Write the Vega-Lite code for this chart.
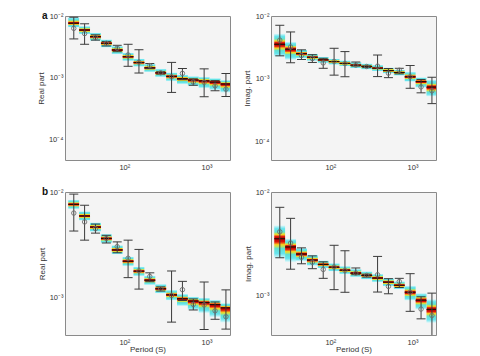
{
"$schema":"https://vega.github.io/schema/vega-lite/v6.json",
"autosize":{"type":"pad"},
"padding":{"left":36,"top":10,"right":0,"bottom":0},
"background":"white",
"config":{
 "font":"Liberation Sans",
 "view":{"fill":"#f4f4f4","stroke":"#8a8a8a","strokeWidth":1},
 "axis":{"ticks":false,"grid":false,"domain":false,"labelFont":"Liberation Sans","labelFontSize":7.5,"labelColor":"#333","titleFont":"Liberation Sans","titleFontSize":8,"titleFontWeight":"normal","titleColor":"#333"},
 "axisX":{"labelPadding":3,"titlePadding":0},
 "axisY":{"labelPadding":2,"titlePadding":3}
},
"datasets":{
"re":[
{"p":24.3,"p0":20.8,"p1":28.2,"m":7.62e-3,"ua":9.59e-3,"la":6.49e-3,"ub":8.45e-3,"lb":6.87e-3,"e1":9.55e-3,"e0":4.25e-3,"o":6.3e-3},
{"p":32.9,"p0":28.2,"p1":38.3,"m":5.92e-3,"ua":6.87e-3,"la":5.04e-3,"ub":6.56e-3,"lb":5.33e-3,"e1":7.48e-3,"e0":3.48e-3,"o":5.19e-3},
{"p":44.6,"p0":38.3,"p1":52.0,"m":4.63e-3,"ua":5.38e-3,"la":3.94e-3,"ub":5.14e-3,"lb":4.18e-3,"e1":4.95e-3,"e0":4.06e-3,"o":4.47e-3},
{"p":60.5,"p0":52.0,"p1":70.5,"m":3.61e-3,"ua":4.19e-3,"la":3.07e-3,"ub":4.0e-3,"lb":3.25e-3,"e1":3.87e-3,"e0":3.27e-3,"o":3.61e-3},
{"p":82.0,"p0":70.5,"p1":95.5,"m":2.81e-3,"ua":3.27e-3,"la":2.39e-3,"ub":3.12e-3,"lb":2.54e-3,"e1":3.35e-3,"e0":2.64e-3,"o":3.02e-3},
{"p":111.2,"p0":95.5,"p1":129.4,"m":2.19e-3,"ua":2.54e-3,"la":1.86e-3,"ub":2.43e-3,"lb":1.97e-3,"e1":3.48e-3,"e0":1.53e-3,"o":2.34e-3},
{"p":150.7,"p0":129.4,"p1":175.4,"m":1.76e-3,"ua":2.04e-3,"la":1.50e-3,"ub":1.95e-3,"lb":1.58e-3,"e1":2.84e-3,"e0":1.19e-3,"o":1.78e-3},
{"p":204.2,"p0":175.4,"p1":238.2,"m":1.445e-3,"ua":1.68e-3,"la":1.23e-3,"ub":1.60e-3,"lb":1.30e-3,"e1":1.70e-3,"e0":1.40e-3,"o":1.57e-3},
{"p":277.3,"p0":238.2,"p1":322.8,"m":1.2e-3,"ua":1.40e-3,"la":1.02e-3,"ub":1.33e-3,"lb":1.08e-3,"e1":1.25e-3,"e0":1.14e-3,"o":1.2e-3},
{"p":375.8,"p0":322.8,"p1":437.5,"m":1.05e-3,"ua":1.22e-3,"la":8.75e-4,"ub":1.17e-3,"lb":9.27e-4,"e1":1.77e-3,"e0":5.77e-4,"o":1.035e-3},
{"p":509.3,"p0":437.5,"p1":592.9,"m":9.64e-4,"ua":1.12e-3,"la":7.83e-4,"ub":1.07e-3,"lb":8.20e-4,"e1":1.41e-3,"e0":9.27e-4,"o":1.175e-3},
{"p":690.2,"p0":592.9,"p1":803.5,"m":9.14e-4,"ua":1.06e-3,"la":7.26e-4,"ub":1.01e-3,"lb":7.52e-4,"e1":9.59e-4,"e0":7.53e-4,"o":8.5e-4},
{"p":935.4,"p0":803.5,"p1":1091,"m":8.87e-4,"ua":1.03e-3,"la":6.73e-4,"ub":9.84e-4,"lb":7.05e-4,"e1":1.39e-3,"e0":4.91e-4,"o":8.4e-4},
{"p":1270,"p0":1091,"p1":1479,"m":8.47e-4,"ua":9.84e-4,"la":6.28e-4,"ub":9.40e-4,"lb":6.43e-4,"e1":8.97e-4,"e0":6.14e-4,"o":7.4e-4},
{"p":1722,"p0":1479,"p1":2004,"m":7.89e-4,"ua":9.16e-4,"la":5.71e-4,"ub":8.75e-4,"lb":5.71e-4,"e1":1.17e-3,"e0":4.95e-4,"o":6.5e-4}
],
"im":[
{"p":24.3,"p0":20.8,"p1":28.2,"m":3.53e-3,"ua":5.22e-3,"la":2.23e-3,"ub":4.76e-3,"lb":2.28e-3,"e1":7.11e-3,"e0":2.31e-3,"o":4.12e-3},
{"p":32.9,"p0":28.2,"p1":38.3,"m":2.94e-3,"ua":3.87e-3,"la":1.99e-3,"ub":3.53e-3,"lb":2.10e-3,"e1":5.56e-3,"e0":1.79e-3,"o":3.2e-3},
{"p":44.6,"p0":38.3,"p1":52.0,"m":2.51e-3,"ua":2.92e-3,"la":2.09e-3,"ub":2.88e-3,"lb":2.14e-3,"e1":2.88e-3,"e0":2.02e-3,"o":2.34e-3},
{"p":60.5,"p0":52.0,"p1":70.5,"m":2.19e-3,"ua":2.51e-3,"la":1.91e-3,"ub":2.48e-3,"lb":1.93e-3,"e1":2.41e-3,"e0":1.81e-3,"o":2.09e-3},
{"p":82.0,"p0":70.5,"p1":95.5,"m":1.99e-3,"ua":2.23e-3,"la":1.77e-3,"ub":2.18e-3,"lb":1.82e-3,"e1":2.11e-3,"e0":1.46e-3,"o":1.78e-3},
{"p":111.2,"p0":95.5,"p1":129.4,"m":1.87e-3,"ua":2.09e-3,"la":1.66e-3,"ub":2.05e-3,"lb":1.70e-3,"e1":3.05e-3,"e0":1.135e-3,"o":1.88e-3},
{"p":150.7,"p0":129.4,"p1":175.4,"m":1.75e-3,"ua":1.96e-3,"la":1.56e-3,"ub":1.92e-3,"lb":1.60e-3,"e1":2.70e-3,"e0":1.07e-3,"o":1.74e-3},
{"p":204.2,"p0":175.4,"p1":238.2,"m":1.64e-3,"ua":1.84e-3,"la":1.46e-3,"ub":1.80e-3,"lb":1.50e-3,"e1":1.84e-3,"e0":1.585e-3,"o":1.64e-3},
{"p":277.3,"p0":238.2,"p1":322.8,"m":1.56e-3,"ua":1.75e-3,"la":1.39e-3,"ub":1.71e-3,"lb":1.42e-3,"e1":1.60e-3,"e0":1.50e-3,"o":1.56e-3},
{"p":375.8,"p0":322.8,"p1":437.5,"m":1.47e-3,"ua":1.65e-3,"la":1.31e-3,"ub":1.61e-3,"lb":1.34e-3,"e1":2.38e-3,"e0":1.076e-3,"o":1.58e-3},
{"p":509.3,"p0":437.5,"p1":592.9,"m":1.34e-3,"ua":1.51e-3,"la":1.20e-3,"ub":1.47e-3,"lb":1.22e-3,"e1":1.45e-3,"e0":1.035e-3,"o":1.22e-3},
{"p":690.2,"p0":592.9,"p1":803.5,"m":1.25e-3,"ua":1.40e-3,"la":1.11e-3,"ub":1.37e-3,"lb":1.14e-3,"e1":1.46e-3,"e0":1.19e-3,"o":1.36e-3},
{"p":935.4,"p0":803.5,"p1":1091,"m":1.07e-3,"ua":1.29e-3,"la":8.89e-4,"ub":1.24e-3,"lb":8.89e-4,"e1":1.62e-3,"e0":7.0e-4,"o":1.07e-3},
{"p":1270,"p0":1091,"p1":1479,"m":8.97e-4,"ua":1.05e-3,"la":7.13e-4,"ub":1.05e-3,"lb":7.30e-4,"e1":9.68e-4,"e0":5.92e-4,"o":7.36e-4},
{"p":1722,"p0":1479,"p1":2004,"m":7.3e-4,"ua":9.62e-4,"la":5.16e-4,"ub":9.18e-4,"lb":5.41e-4,"e1":1.05e-3,"e0":3.98e-4,"o":6.38e-4}
]
},
"columns":2,
"spacing":{"row":32,"column":41},
"bounds":"flush",
"concat":[
{
 "width":165,"height":144,
 "data":{"name":"re"},
 "title":{"text":"a","anchor":"start","frame":"group","orient":"top","offset":0,"baseline":"middle","dx":-23,"dy":14,"fontSize":10,"fontWeight":"bold","color":"#111"},
 "layer":[
  {"mark":{"type":"rect","clip":true,"fill":{"gradient":"linear","x1":0,"y1":0,"x2":0,"y2":1,"stops":[{"offset":0,"color":"#e4f8f9"},{"offset":0.25,"color":"#66e4ee"},{"offset":0.5,"color":"#60e0d0"},{"offset":0.62,"color":"#c8e050"},{"offset":0.7,"color":"#f5d020"},{"offset":0.78,"color":"#ee5a18"},{"offset":0.85,"color":"#d81008"},{"offset":1,"color":"#b80000"}]}},
   "encoding":{"x":{"field":"p0","type":"quantitative","scale":{"type":"log","domain":[19,1930],"nice":false},"axis":{"values":[100,1000],"labelExpr":"datum.value == 100 ? '10²' : '10³'","title":null}},
    "x2":{"field":"p1"},
    "y":{"field":"ua","type":"quantitative","scale":{"type":"log","domain":[4.63e-5,0.01],"nice":false},"axis":{"values":[0.01,0.001,0.0001],"labelExpr":"datum.value == 0.01 ? '10⁻²' : datum.value == 0.001 ? '10⁻³' : '10⁻⁴'","title":"Real part"}},
    "y2":{"field":"m"}}},
  {"mark":{"type":"rect","clip":true,"fill":{"gradient":"linear","x1":0,"y1":0,"x2":0,"y2":1,"stops":[{"offset":0,"color":"#b80000"},{"offset":0.15,"color":"#d81008"},{"offset":0.22,"color":"#ee5a18"},{"offset":0.3,"color":"#f5d020"},{"offset":0.38,"color":"#c8e050"},{"offset":0.5,"color":"#60e0d0"},{"offset":0.75,"color":"#66e4ee"},{"offset":1,"color":"#e4f8f9"}]}},
   "encoding":{"x":{"field":"p0","type":"quantitative"},"x2":{"field":"p1"},"y":{"field":"m","type":"quantitative"},"y2":{"field":"la"}}},
  {"mark":{"type":"rule","clip":true,"color":"#2a0800","strokeWidth":1.2},"encoding":{"x":{"field":"p0","type":"quantitative"},"x2":{"field":"p1"},"y":{"field":"m","type":"quantitative"}}},
  {"mark":{"type":"rule","clip":true,"color":"#3a3a3a","strokeWidth":1},"encoding":{"x":{"field":"p","type":"quantitative"},"y":{"field":"e1","type":"quantitative"},"y2":{"field":"e0"}}},
  {"mark":{"type":"tick","clip":true,"orient":"horizontal","size":9,"thickness":1,"color":"#3a3a3a","opacity":1},"encoding":{"x":{"field":"p","type":"quantitative"},"y":{"field":"e1","type":"quantitative"}}},
  {"mark":{"type":"tick","clip":true,"orient":"horizontal","size":9,"thickness":1,"color":"#3a3a3a","opacity":1},"encoding":{"x":{"field":"p","type":"quantitative"},"y":{"field":"e0","type":"quantitative"}}},
  {"mark":{"type":"point","clip":true,"shape":"circle","filled":false,"size":20,"color":"#6e6e6e","strokeWidth":0.9,"opacity":1},"encoding":{"x":{"field":"p","type":"quantitative"},"y":{"field":"o","type":"quantitative"}}}
 ]
},
{
 "width":165,"height":144,
 "data":{"name":"im"},
 "layer":[
  {"mark":{"type":"rect","clip":true,"fill":{"gradient":"linear","x1":0,"y1":0,"x2":0,"y2":1,"stops":[{"offset":0,"color":"#e4f8f9"},{"offset":0.25,"color":"#66e4ee"},{"offset":0.5,"color":"#60e0d0"},{"offset":0.62,"color":"#c8e050"},{"offset":0.7,"color":"#f5d020"},{"offset":0.78,"color":"#ee5a18"},{"offset":0.85,"color":"#d81008"},{"offset":1,"color":"#b80000"}]}},
   "encoding":{"x":{"field":"p0","type":"quantitative","scale":{"type":"log","domain":[19,1930],"nice":false},"axis":{"values":[100,1000],"labelExpr":"datum.value == 100 ? '10²' : '10³'","title":null}},
    "x2":{"field":"p1"},
    "y":{"field":"ua","type":"quantitative","scale":{"type":"log","domain":[5.0e-5,0.01],"nice":false},"axis":{"values":[0.01,0.001,0.0001],"labelExpr":"datum.value == 0.01 ? '10⁻²' : datum.value == 0.001 ? '10⁻³' : '10⁻⁴'","title":"Imag. part"}},
    "y2":{"field":"m"}}},
  {"mark":{"type":"rect","clip":true,"fill":{"gradient":"linear","x1":0,"y1":0,"x2":0,"y2":1,"stops":[{"offset":0,"color":"#b80000"},{"offset":0.15,"color":"#d81008"},{"offset":0.22,"color":"#ee5a18"},{"offset":0.3,"color":"#f5d020"},{"offset":0.38,"color":"#c8e050"},{"offset":0.5,"color":"#60e0d0"},{"offset":0.75,"color":"#66e4ee"},{"offset":1,"color":"#e4f8f9"}]}},
   "encoding":{"x":{"field":"p0","type":"quantitative"},"x2":{"field":"p1"},"y":{"field":"m","type":"quantitative"},"y2":{"field":"la"}}},
  {"mark":{"type":"rule","clip":true,"color":"#2a0800","strokeWidth":1.2},"encoding":{"x":{"field":"p0","type":"quantitative"},"x2":{"field":"p1"},"y":{"field":"m","type":"quantitative"}}},
  {"mark":{"type":"rule","clip":true,"color":"#3a3a3a","strokeWidth":1},"encoding":{"x":{"field":"p","type":"quantitative"},"y":{"field":"e1","type":"quantitative"},"y2":{"field":"e0"}}},
  {"mark":{"type":"tick","clip":true,"orient":"horizontal","size":9,"thickness":1,"color":"#3a3a3a","opacity":1},"encoding":{"x":{"field":"p","type":"quantitative"},"y":{"field":"e1","type":"quantitative"}}},
  {"mark":{"type":"tick","clip":true,"orient":"horizontal","size":9,"thickness":1,"color":"#3a3a3a","opacity":1},"encoding":{"x":{"field":"p","type":"quantitative"},"y":{"field":"e0","type":"quantitative"}}},
  {"mark":{"type":"point","clip":true,"shape":"circle","filled":false,"size":20,"color":"#6e6e6e","strokeWidth":0.9,"opacity":1},"encoding":{"x":{"field":"p","type":"quantitative"},"y":{"field":"o","type":"quantitative"}}}
 ]
},
{
 "width":165,"height":143,
 "data":{"name":"re"},
 "title":{"text":"b","anchor":"start","frame":"group","orient":"top","offset":0,"baseline":"middle","dx":-23,"dy":14,"fontSize":10,"fontWeight":"bold","color":"#111"},
 "layer":[
  {"mark":{"type":"rect","clip":true,"fill":{"gradient":"linear","x1":0,"y1":0,"x2":0,"y2":1,"stops":[{"offset":0,"color":"#e4f8f9"},{"offset":0.25,"color":"#66e4ee"},{"offset":0.5,"color":"#60e0d0"},{"offset":0.62,"color":"#c8e050"},{"offset":0.7,"color":"#f5d020"},{"offset":0.78,"color":"#ee5a18"},{"offset":0.85,"color":"#d81008"},{"offset":1,"color":"#b80000"}]}},
   "encoding":{"x":{"field":"p0","type":"quantitative","scale":{"type":"log","domain":[19,1930],"nice":false},"axis":{"values":[100,1000],"labelExpr":"datum.value == 100 ? '10²' : '10³'","title":"Period (S)"}},
    "x2":{"field":"p1"},
    "y":{"field":"ub","type":"quantitative","scale":{"type":"log","domain":[4.35e-4,0.01],"nice":false},"axis":{"values":[0.01,0.001],"labelExpr":"datum.value == 0.01 ? '10⁻²' : '10⁻³'","title":"Real part"}},
    "y2":{"field":"m"}}},
  {"mark":{"type":"rect","clip":true,"fill":{"gradient":"linear","x1":0,"y1":0,"x2":0,"y2":1,"stops":[{"offset":0,"color":"#b80000"},{"offset":0.15,"color":"#d81008"},{"offset":0.22,"color":"#ee5a18"},{"offset":0.3,"color":"#f5d020"},{"offset":0.38,"color":"#c8e050"},{"offset":0.5,"color":"#60e0d0"},{"offset":0.75,"color":"#66e4ee"},{"offset":1,"color":"#e4f8f9"}]}},
   "encoding":{"x":{"field":"p0","type":"quantitative"},"x2":{"field":"p1"},"y":{"field":"m","type":"quantitative"},"y2":{"field":"lb"}}},
  {"mark":{"type":"rule","clip":true,"color":"#2a0800","strokeWidth":1.2},"encoding":{"x":{"field":"p0","type":"quantitative"},"x2":{"field":"p1"},"y":{"field":"m","type":"quantitative"}}},
  {"mark":{"type":"rule","clip":true,"color":"#3a3a3a","strokeWidth":1},"encoding":{"x":{"field":"p","type":"quantitative"},"y":{"field":"e1","type":"quantitative"},"y2":{"field":"e0"}}},
  {"mark":{"type":"tick","clip":true,"orient":"horizontal","size":9,"thickness":1,"color":"#3a3a3a","opacity":1},"encoding":{"x":{"field":"p","type":"quantitative"},"y":{"field":"e1","type":"quantitative"}}},
  {"mark":{"type":"tick","clip":true,"orient":"horizontal","size":9,"thickness":1,"color":"#3a3a3a","opacity":1},"encoding":{"x":{"field":"p","type":"quantitative"},"y":{"field":"e0","type":"quantitative"}}},
  {"mark":{"type":"point","clip":true,"shape":"circle","filled":false,"size":20,"color":"#6e6e6e","strokeWidth":0.9,"opacity":1},"encoding":{"x":{"field":"p","type":"quantitative"},"y":{"field":"o","type":"quantitative"}}}
 ]
},
{
 "width":165,"height":143,
 "data":{"name":"im"},
 "layer":[
  {"mark":{"type":"rect","clip":true,"fill":{"gradient":"linear","x1":0,"y1":0,"x2":0,"y2":1,"stops":[{"offset":0,"color":"#e4f8f9"},{"offset":0.25,"color":"#66e4ee"},{"offset":0.5,"color":"#60e0d0"},{"offset":0.62,"color":"#c8e050"},{"offset":0.7,"color":"#f5d020"},{"offset":0.78,"color":"#ee5a18"},{"offset":0.85,"color":"#d81008"},{"offset":1,"color":"#b80000"}]}},
   "encoding":{"x":{"field":"p0","type":"quantitative","scale":{"type":"log","domain":[19,1930],"nice":false},"axis":{"values":[100,1000],"labelExpr":"datum.value == 100 ? '10²' : '10³'","title":"Period (S)"}},
    "x2":{"field":"p1"},
    "y":{"field":"ub","type":"quantitative","scale":{"type":"log","domain":[4.13e-4,0.01],"nice":false},"axis":{"values":[0.01,0.001],"labelExpr":"datum.value == 0.01 ? '10⁻²' : '10⁻³'","title":"Imag. part"}},
    "y2":{"field":"m"}}},
  {"mark":{"type":"rect","clip":true,"fill":{"gradient":"linear","x1":0,"y1":0,"x2":0,"y2":1,"stops":[{"offset":0,"color":"#b80000"},{"offset":0.15,"color":"#d81008"},{"offset":0.22,"color":"#ee5a18"},{"offset":0.3,"color":"#f5d020"},{"offset":0.38,"color":"#c8e050"},{"offset":0.5,"color":"#60e0d0"},{"offset":0.75,"color":"#66e4ee"},{"offset":1,"color":"#e4f8f9"}]}},
   "encoding":{"x":{"field":"p0","type":"quantitative"},"x2":{"field":"p1"},"y":{"field":"m","type":"quantitative"},"y2":{"field":"lb"}}},
  {"mark":{"type":"rule","clip":true,"color":"#2a0800","strokeWidth":1.2},"encoding":{"x":{"field":"p0","type":"quantitative"},"x2":{"field":"p1"},"y":{"field":"m","type":"quantitative"}}},
  {"mark":{"type":"rule","clip":true,"color":"#3a3a3a","strokeWidth":1},"encoding":{"x":{"field":"p","type":"quantitative"},"y":{"field":"e1","type":"quantitative"},"y2":{"field":"e0"}}},
  {"mark":{"type":"tick","clip":true,"orient":"horizontal","size":9,"thickness":1,"color":"#3a3a3a","opacity":1},"encoding":{"x":{"field":"p","type":"quantitative"},"y":{"field":"e1","type":"quantitative"}}},
  {"mark":{"type":"tick","clip":true,"orient":"horizontal","size":9,"thickness":1,"color":"#3a3a3a","opacity":1},"encoding":{"x":{"field":"p","type":"quantitative"},"y":{"field":"e0","type":"quantitative"}}},
  {"mark":{"type":"point","clip":true,"shape":"circle","filled":false,"size":20,"color":"#6e6e6e","strokeWidth":0.9,"opacity":1},"encoding":{"x":{"field":"p","type":"quantitative"},"y":{"field":"o","type":"quantitative"}}}
 ]
}
]
}
